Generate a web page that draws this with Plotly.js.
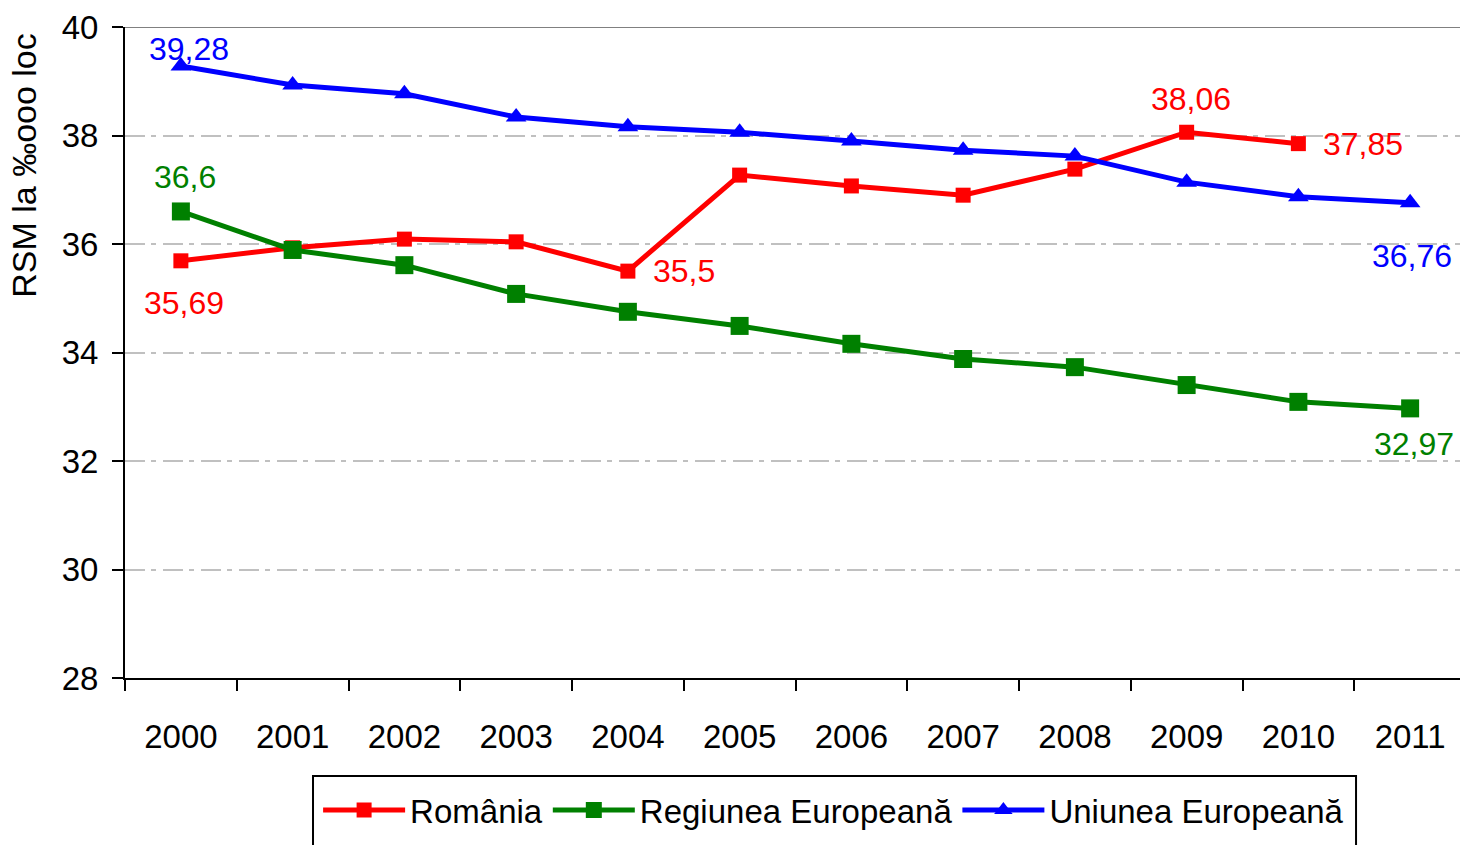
<!DOCTYPE html>
<html>
<head>
<meta charset="utf-8">
<script src="https://cdn.plot.ly/plotly-3.0.1.min.js"></script>
<style>
html, body { margin: 0; padding: 0; overflow: hidden; background: #fff; width: 1460px; height: 845px; }
#chart { width: 1466px; height: 845px; }
</style>
</head>
<body>
<div id="chart"></div>
<script>
const years = ['2000','2001','2002','2003','2004','2005','2006','2007','2008','2009','2010','2011'];
const romania = [35.69, 35.93, 36.09, 36.04, 35.5, 37.27, 37.07, 36.9, 37.38, 38.06, 37.85, null];
const regiunea = [36.6, 35.89, 35.61, 35.08, 34.75, 34.49, 34.16, 33.88, 33.73, 33.4, 33.09, 32.97];
const uniunea = [39.28, 38.93, 38.77, 38.34, 38.16, 38.06, 37.9, 37.73, 37.62, 37.14, 36.87, 36.76];
const yTicks = [28, 30, 32, 34, 36, 38, 40];
const seriesNames = ['România', 'Regiunea Europeană', 'Uniunea Europeană'];
const yTitle = 'RSM la ‰ooo loc';

// labelled points: [series index, year index, xshift, yshift]
const labelSpecs = [
  [2, 0, 8, 17],
  [1, 0, 4, 34],
  [0, 0, 3, -42],
  [0, 4, 56, 0],
  [0, 9, 4, 33],
  [0, 10, 65, 0],
  [2, 11, 2, -53],
  [1, 11, 4, -36]
];

const colors = ['#FF0000', '#008000', '#0000FF'];
const seriesData = [romania, regiunea, uniunea];
const fmt = v => String(v).replace('.', ',');
const FONT = 'Liberation Sans, Arial, sans-serif';

const traces = [
  { x: years, y: romania, name: seriesNames[0], type: 'scatter', mode: 'lines+markers',
    line: { color: colors[0], width: 5 }, marker: { symbol: 'square', size: 15, color: colors[0] } },
  { x: years, y: regiunea, name: seriesNames[1], type: 'scatter', mode: 'lines+markers',
    line: { color: colors[1], width: 5 }, marker: { symbol: 'square', size: 18, color: colors[1] } },
  { x: years, y: uniunea, name: seriesNames[2], type: 'scatter', mode: 'lines+markers',
    line: { color: colors[2], width: 5 }, marker: { symbol: 'triangle-up', size: 18, color: colors[2] } }
];

// category axis: annotation x uses the category index
const annotations = labelSpecs.map(([s, i, dx, dy]) => ({
  x: i, y: seriesData[s][i], xref: 'x', yref: 'y',
  text: fmt(seriesData[s][i]), showarrow: false,
  xshift: dx, yshift: dy,
  font: { family: FONT, size: 32, color: colors[s] }
}));

annotations.push({
  text: yTitle, xref: 'paper', yref: 'paper', x: -0.0755, y: 0.788,
  xanchor: 'center', yanchor: 'middle', textangle: -90, showarrow: false,
  font: { family: FONT, size: 34, color: '#000' }
});

const layout = {
  width: 1466, height: 845,
  margin: { l: 125, r: 0, t: 27, b: 167 },
  paper_bgcolor: '#fff', plot_bgcolor: '#fff',
  font: { family: FONT, size: 33, color: '#000' },
  showlegend: true,
  legend: {
    orientation: 'h', x: 0.144, xanchor: 'left', y: -0.16, yanchor: 'top',
    font: { size: 33, color: '#000' }, bgcolor: 'rgba(0,0,0,0)', borderwidth: 0,
    itemwidth: 82, traceorder: 'normal'
  },
  xaxis: {
    type: 'category', range: [-0.5, 11.5], fixedrange: true,
    showline: true, linecolor: '#000', linewidth: 2,
    ticks: 'outside', tickson: 'boundaries', ticklen: 11, tickwidth: 2, tickcolor: '#000',
    showgrid: false, zeroline: false, ticklabelstandoff: 28,
    tickfont: { size: 33 }
  },
  yaxis: {
    range: [28, 40], tickvals: yTicks, ticktext: yTicks.map(String), fixedrange: true,
    showline: true, linecolor: '#000', linewidth: 2,
    ticks: 'outside', ticklen: 11, tickwidth: 2, tickcolor: '#000',
    showgrid: true, gridcolor: '#C0C0C0', gridwidth: 2, griddash: '20px,6px,5px,7px',
    zeroline: false, ticklabelstandoff: 7,
    tickfont: { size: 33 }
  },
  shapes: [
    { type: 'line', xref: 'paper', yref: 'y', x0: 0, x1: 1, y0: 40, y1: 40,
      line: { color: '#808080', width: 2 }, layer: 'below' },
    { type: 'rect', xref: 'paper', yref: 'paper', x0: 0.1402, x1: 0.918, y0: -0.1505, y1: -0.29,
      line: { color: '#000', width: 2 }, fillcolor: 'rgba(0,0,0,0)' }
  ],
  annotations: annotations
};

Plotly.newPlot('chart', traces, layout, { displayModeBar: false, staticPlot: true });
</script>
</body>
</html>
